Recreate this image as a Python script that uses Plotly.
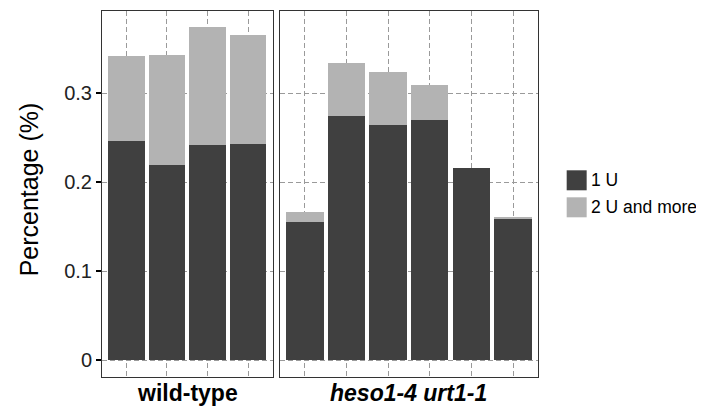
import plotly.graph_objects as go

# ---- data ----
series_names = ["1 U", "2 U and more"]
series_colors = ["#404040", "#B3B3B3"]

wt_samples = [1, 2, 3, 4]
wt_one_u = [0.246, 0.219, 0.242, 0.243]
wt_two_u = [0.096, 0.124, 0.133, 0.123]

mut_samples = [1, 2, 3, 4, 5, 6]
mut_one_u = [0.155, 0.2745, 0.264, 0.270, 0.216, 0.1585]
mut_two_u = [0.012, 0.0595, 0.060, 0.039, 0.0, 0.0025]

panel_labels = ["wild-type", "<i>heso1-4 urt1-1</i>"]
y_ticks = [0, 0.1, 0.2, 0.3]
y_tick_text = ["0", "0.1", "0.2", "0.3"]

# page body has an 8px margin; figure sized to fit the window exactly
OFF = 8
W, H = 704 - 2 * OFF, 415 - 2 * OFF
PL, PR, PT, PB = 102 - OFF, 538.3 - OFF, 10.7 - OFF, 376.7 - OFF
PW, PH = PR - PL, PB - PT


def px(xr):
    return (xr - OFF - PL) / PW


def py(yr_):
    return (PB - (yr_ - OFF)) / PH


fig = go.Figure()
for xa, ya, xs, ys in [("x", "y", wt_samples, [wt_one_u, wt_two_u]),
                       ("x2", "y2", mut_samples, [mut_one_u, mut_two_u])]:
    for name, col, vals in zip(series_names, series_colors, ys):
        fig.add_trace(go.Bar(x=xs, y=vals, name=name, marker=dict(color=col, line=dict(width=0)),
                             width=0.9, xaxis=xa, yaxis=ya, showlegend=False))

yr = [-0.0191, 0.3926]
grid = dict(showgrid=True, gridcolor="#9a9a9a", griddash="5px,3px", gridwidth=1,
            showline=True, linecolor="#333333", linewidth=1, mirror=True, zeroline=False)

fig.update_layout(
    barmode="stack",
    width=W, height=H,
    margin=dict(l=PL, r=W - PR, t=PT, b=H - PB, pad=0),
    paper_bgcolor="white", plot_bgcolor="white",
    font=dict(family="Liberation Sans, Arial, sans-serif", color="black"),
    xaxis=dict(domain=[0, px(272.7)], range=[0.4, 4.6], tickvals=wt_samples, showticklabels=False,
               ticks="", **grid),
    xaxis2=dict(domain=[px(280), 1], range=[0.4, 6.6], tickvals=mut_samples, showticklabels=False,
                ticks="", **grid),
    yaxis=dict(range=yr, tickvals=y_ticks, ticktext=y_tick_text, ticks="outside", ticklen=5,
               tickcolor="black", tickwidth=1.5, tickfont=dict(size=20, color="#222"), anchor="x", **grid),
    yaxis2=dict(range=yr, tickvals=y_ticks, showticklabels=False, ticks="", anchor="x2", **grid),
)

# axis title
fig.add_annotation(text="Percentage (%)", xref="paper", yref="paper",
                   x=px(29), y=py(189), textangle=-90,
                   showarrow=False, font=dict(size=25), xanchor="center", yanchor="middle")

# facet labels at bottom
for lab, cx in zip(panel_labels, [(102 + 272.7) / 2, (280 + 538.3) / 2]):
    fig.add_annotation(text="<b>" + lab + "</b>", xref="paper", yref="paper", x=px(cx),
                       y=py(393), showarrow=False, font=dict(size=23),
                       xanchor="center", yanchor="middle")

# legend (swatches + labels)
for i, (name, col) in enumerate(zip(series_names, series_colors)):
    top = 170 + i * 27
    fig.add_shape(type="rect", xref="paper", yref="paper", x0=px(567), x1=px(587),
                  y0=py(top + 20), y1=py(top), fillcolor=col, line=dict(width=0))
    fig.add_annotation(text=name, xref="paper", yref="paper", x=px(589),
                       y=py(top + 10), showarrow=False, font=dict(size=17.5),
                       xanchor="left", yanchor="middle")

fig.write_html("out.html")
